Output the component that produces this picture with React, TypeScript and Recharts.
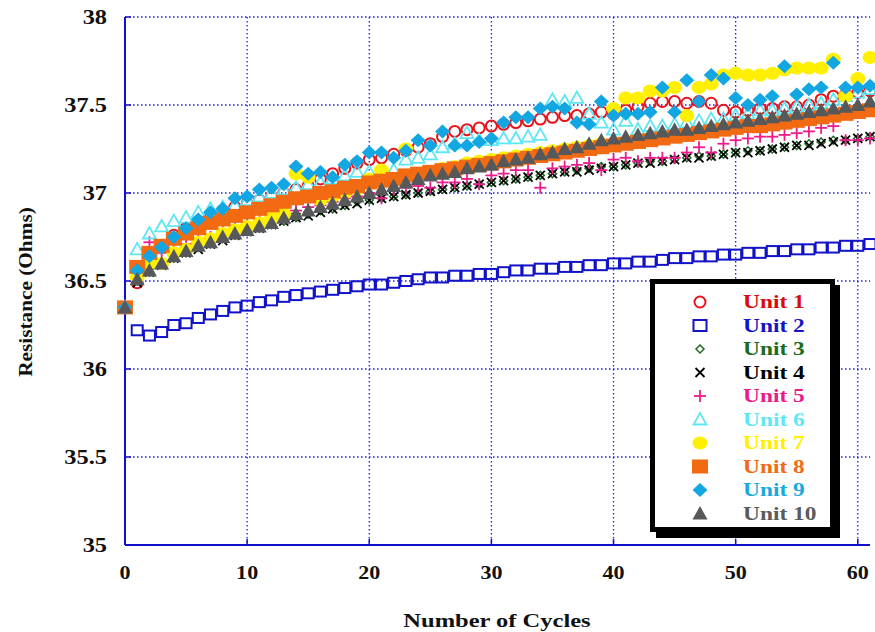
import React from 'react';
import { ScatterChart, Scatter, XAxis, YAxis, CartesianGrid, Legend, Label } from 'recharts';

const cycles = [0, 1, 2, 3, 4, 5, 6, 7, 8, 9, 10, 11, 12, 13, 14, 15, 16, 17, 18, 19, 20, 21, 22, 23, 24, 25, 26, 27, 28, 29, 30, 31, 32, 33, 34, 35, 36, 37, 38, 39, 40, 41, 42, 43, 44, 45, 46, 47, 48, 49, 50, 51, 52, 53, 54, 55, 56, 57, 58, 59, 60, 61];
const xTicks = [0, 10, 20, 30, 40, 50, 60];
const yTicks = [35, 35.5, 36, 36.5, 37, 37.5, 38];

const unit1 = [36.35, 36.49, 36.62, 36.7, 36.76, 36.8, 36.84, 36.87, 36.9, 36.92, 36.94, 36.96, 36.98, 37.0, 37.02, 37.04, 37.08, 37.11, 37.14, 37.17, 37.19, 37.2, 37.22, 37.24, 37.26, 37.28, 37.32, 37.35, 37.36, 37.37, 37.38, 37.39, 37.4, 37.41, 37.42, 37.43, 37.44, 37.44, 37.45, 37.46, 37.45, 37.47, 37.49, 37.51, 37.52, 37.52, 37.51, 37.52, 37.51, 37.47, 37.46, 37.47, 37.48, 37.48, 37.49, 37.49, 37.5, 37.53, 37.55, 37.56, 37.57, 37.58];
const unit2 = [36.35, 36.22, 36.19, 36.21, 36.25, 36.26, 36.29, 36.31, 36.33, 36.35, 36.36, 36.38, 36.39, 36.41, 36.42, 36.43, 36.44, 36.45, 36.46, 36.47, 36.48, 36.48, 36.49, 36.5, 36.51, 36.52, 36.52, 36.53, 36.53, 36.54, 36.54, 36.55, 36.56, 36.56, 36.57, 36.57, 36.58, 36.58, 36.59, 36.59, 36.6, 36.6, 36.61, 36.61, 36.62, 36.63, 36.63, 36.64, 36.64, 36.65, 36.65, 36.66, 36.66, 36.67, 36.67, 36.68, 36.68, 36.69, 36.69, 36.7, 36.7, 36.71];
const unit3 = [36.35, 36.5, 36.55, 36.6, 36.63, 36.66, 36.69, 36.71, 36.74, 36.76, 36.78, 36.8, 36.82, 36.84, 36.86, 36.88, 36.9, 36.91, 36.93, 36.95, 36.96, 36.97, 36.98, 36.99, 37.0, 37.01, 37.02, 37.03, 37.04, 37.05, 37.06, 37.07, 37.08, 37.09, 37.1, 37.11, 37.12, 37.13, 37.14, 37.15, 37.15, 37.16, 37.17, 37.18, 37.18, 37.19, 37.2, 37.21, 37.21, 37.22, 37.23, 37.24, 37.24, 37.25, 37.26, 37.27, 37.28, 37.29, 37.3, 37.3, 37.31, 37.32];
const unit4 = [36.35, 36.49, 36.55, 36.59, 36.63, 36.66, 36.68, 36.71, 36.73, 36.76, 36.78, 36.8, 36.82, 36.84, 36.86, 36.87, 36.89, 36.91, 36.93, 36.94, 36.96, 36.97, 36.98, 36.99, 37.0, 37.01, 37.02, 37.03, 37.04, 37.05, 37.06, 37.07, 37.08, 37.09, 37.1, 37.11, 37.12, 37.12, 37.13, 37.14, 37.15, 37.16, 37.17, 37.17, 37.18, 37.19, 37.2, 37.2, 37.21, 37.22, 37.23, 37.23, 37.24, 37.25, 37.26, 37.27, 37.27, 37.28, 37.29, 37.3, 37.31, 37.32];
const unit5 = [36.35, 36.52, 36.72, 36.66, 36.68, 36.71, 36.73, 36.75, 36.78, 36.8, 36.82, 36.84, 36.86, 36.88, 36.9, 36.92, 36.93, 36.95, 36.97, 36.98, 37.0, 36.97, 37.02, 37.03, 37.04, 37.03, 37.06, 37.06, 37.08, 37.05, 37.1, 37.11, 37.13, 37.13, 37.03, 37.14, 37.15, 37.16, 37.17, 37.13, 37.19, 37.2, 37.18, 37.2, 37.2, 37.2, 37.23, 37.26, 37.23, 37.28, 37.3, 37.31, 37.32, 37.32, 37.33, 37.34, 37.35, 37.37, 37.38, 37.3, 37.3, 37.31];
const unit6 = [36.35, 36.68, 36.77, 36.81, 36.84, 36.86, 36.89, 36.91, 36.92, 36.93, 36.96, 36.98, 37.0, 37.02, 37.03, 37.05, 37.06, 37.08, 37.1, 37.12, 37.12, 37.12, 37.13, 37.19, 37.2, 37.22, 37.26, 37.28, 37.34, 37.3, 37.3, 37.31, 37.31, 37.32, 37.33, 37.53, 37.52, 37.54, 37.45, 37.4, 37.36, 37.41, 37.36, 37.38, 37.38, 37.39, 37.4, 37.41, 37.42, 37.42, 37.44, 37.45, 37.47, 37.47, 37.48, 37.49, 37.5, 37.51, 37.53, 37.55, 37.57, 37.59];
const unit7 = [36.35, 36.52, 36.6, 36.6, 36.66, 36.68, 36.72, 36.74, 36.77, 36.79, 36.81, 36.83, 36.86, 36.88, 37.11, 37.09, 36.96, 36.98, 37.0, 37.02, 37.08, 37.13, 37.07, 37.25, 37.11, 37.12, 37.14, 37.15, 37.17, 37.18, 37.19, 37.2, 37.21, 37.22, 37.23, 37.24, 37.25, 37.26, 37.27, 37.28, 37.48, 37.54, 37.54, 37.58, 37.58, 37.6, 37.44, 37.6, 37.62, 37.67, 37.68, 37.67, 37.67, 37.68, 37.7, 37.71, 37.71, 37.71, 37.76, 37.55, 37.65, 37.77];
const unit8 = [36.35, 36.58, 36.66, 36.7, 36.74, 36.77, 36.8, 36.83, 36.85, 36.87, 36.89, 36.91, 36.93, 36.95, 36.97, 36.98, 37.0, 37.01, 37.03, 37.04, 37.06, 37.07, 37.08, 37.1, 37.11, 37.12, 37.13, 37.14, 37.15, 37.16, 37.17, 37.18, 37.19, 37.2, 37.21, 37.22, 37.23, 37.24, 37.25, 37.26, 37.27, 37.28, 37.29, 37.3, 37.31, 37.32, 37.33, 37.34, 37.35, 37.36, 37.37, 37.38, 37.38, 37.39, 37.4, 37.41, 37.42, 37.43, 37.44, 37.45, 37.46, 37.47];
const unit9 = [36.35, 36.56, 36.64, 36.69, 36.75, 36.8, 36.85, 36.89, 36.91, 36.97, 36.98, 37.02, 37.03, 37.05, 37.15, 37.11, 37.12, 37.09, 37.16, 37.18, 37.23, 37.23, 37.2, 37.24, 37.3, 37.27, 37.35, 37.27, 37.27, 37.29, 37.31, 37.4, 37.43, 37.43, 37.48, 37.49, 37.48, 37.4, 37.39, 37.52, 37.44, 37.45, 37.45, 37.46, 37.6, 37.46, 37.64, 37.52, 37.67, 37.65, 37.54, 37.5, 37.53, 37.55, 37.72, 37.56, 37.59, 37.6, 37.74, 37.6, 37.6, 37.61];
const unit10 = [36.35, 36.51, 36.56, 36.6, 36.64, 36.67, 36.7, 36.72, 36.75, 36.77, 36.79, 36.81, 36.83, 36.86, 36.88, 36.9, 36.92, 36.94, 36.96, 36.98, 37.0, 37.02, 37.04, 37.06, 37.08, 37.1, 37.11, 37.12, 37.14, 37.15, 37.16, 37.18, 37.19, 37.2, 37.22, 37.23, 37.25, 37.26, 37.28, 37.3, 37.31, 37.32, 37.33, 37.34, 37.35, 37.36, 37.36, 37.37, 37.38, 37.39, 37.4, 37.41, 37.42, 37.43, 37.44, 37.45, 37.46, 37.47, 37.48, 37.49, 37.5, 37.52];

const unitNames = ['Unit 1', 'Unit 2', 'Unit 3', 'Unit 4', 'Unit 5', 'Unit 6', 'Unit 7', 'Unit 8', 'Unit 9', 'Unit 10'];
const unitValues = [unit1, unit2, unit3, unit4, unit5, unit6, unit7, unit8, unit9, unit10];
const unitColors = ['#e8131b', '#1212c8', '#1d6b22', '#000000', '#ec1c8c', '#5fe6f3', '#fff000', '#f26a12', '#12a6e2', '#56585a'];
const legendTextColors = ['#d80c0c', '#1414c4', '#1d6b1d', '#000000', '#e81c8a', '#5ee8f4', '#fff000', '#f26a12', '#19a9e0', '#5b5b5b'];
const unitMarkers = ['ocircle', 'osquare', 'odiamond', 'x', 'plus', 'otriangle', 'fcircle', 'fsquare', 'fdiamond', 'ftriangle'];

const series = unitNames.map((name, i) => ({
  name,
  color: unitColors[i],
  marker: unitMarkers[i],
  data: cycles.map((c, j) => ({ x: c, y: unitValues[i][j] })),
}));

const FONT = '"Liberation Serif", "Times New Roman", serif';
const AXIS_BLUE = '#1010d0';

function Marker({ kind, cx, cy, color, legend }: { kind: string; cx: number; cy: number; color: string; legend?: boolean }) {
  if (cx == null || cy == null) return null;
  switch (kind) {
    case 'ocircle':
      return <circle cx={cx} cy={cy} r={5.5} fill="none" stroke={color} strokeWidth={2} />;
    case 'osquare':
      return legend
        ? <rect x={cx - 6.5} y={cy - 5.5} width={13} height={11} fill="none" stroke={color} strokeWidth={2} />
        : <rect x={cx - 5.5} y={cy - 5} width={11} height={10} fill="none" stroke={color} strokeWidth={2} />;
    case 'odiamond':
      return <polygon points={`${cx},${cy - 4} ${cx + 4},${cy} ${cx},${cy + 4} ${cx - 4},${cy}`} fill="none" stroke={color} strokeWidth={1.5} />;
    case 'x':
      return (
        <g stroke={color} strokeWidth={1.8}>
          <line x1={cx - 4.5} y1={cy - 4.5} x2={cx + 4.5} y2={cy + 4.5} />
          <line x1={cx - 4.5} y1={cy + 4.5} x2={cx + 4.5} y2={cy - 4.5} />
        </g>
      );
    case 'plus':
      return (
        <g stroke={color} strokeWidth={1.8}>
          <line x1={cx - 6} y1={cy} x2={cx + 6} y2={cy} />
          <line x1={cx} y1={cy - 6} x2={cx} y2={cy + 6} />
        </g>
      );
    case 'otriangle':
      return <polygon points={`${cx},${cy - 6.5} ${cx + 6.5},${cy + 5} ${cx - 6.5},${cy + 5}`} fill="none" stroke={color} strokeWidth={1.8} />;
    case 'fcircle':
      return <ellipse cx={cx} cy={cy} rx={7.5} ry={6.5} fill={color} />;
    case 'fsquare':
      return <rect x={cx - 8} y={cy - 7} width={16} height={14} fill={color} />;
    case 'fdiamond':
      return <polygon points={`${cx},${cy - 7} ${cx + 7.5},${cy} ${cx},${cy + 7} ${cx - 7.5},${cy}`} fill={color} />;
    case 'ftriangle':
      return <polygon points={`${cx},${cy - 7.5} ${cx + 7.5},${cy + 6} ${cx - 7.5},${cy + 6}`} fill={color} />;
    default:
      return null;
  }
}

const YTick = (props: any) => {
  const { y, payload } = props;
  return (
    <g transform={`translate(107, ${y}) scale(1.16, 1)`}>
      <text x={0} y={0} dy="0.35em" textAnchor="end" fontFamily={FONT} fontWeight="bold" fontSize={21} fill="#111">
        {payload.value}
      </text>
    </g>
  );
};

const XTick = (props: any) => {
  const { x, payload } = props;
  return (
    <g transform={`translate(${x}, 572) scale(1.16, 1)`}>
      <text x={0} y={0} dy="0.35em" textAnchor="middle" fontFamily={FONT} fontWeight="bold" fontSize={19} fill="#111">
        {payload.value}
      </text>
    </g>
  );
};

const EmptyTick = () => <g />;

const XTitle = () => (
  <g transform="translate(497, 620) scale(1.29, 1)">
    <text x={0} y={0} dy="0.35em" textAnchor="middle" fontFamily={FONT} fontWeight="bold" fontSize={19} fill="#111">
      Number of Cycles
    </text>
  </g>
);

const YTitle = () => (
  <g transform="translate(25, 292) rotate(-90) scale(1.12, 1)">
    <text x={0} y={0} dy="0.35em" textAnchor="middle" fontFamily={FONT} fontWeight="bold" fontSize={19} fill="#111">
      Resistance (Ohms)
    </text>
  </g>
);

const LegendBox = () => (
  <svg width={200} height={270} style={{ display: 'block' }}>
    <rect x={11} y={11} width={184} height={253} fill="#000" />
    <rect x={7.5} y={7.5} width={180} height={248} fill="#fff" stroke="#000" strokeWidth={5} />
    {series.map((s, i) => {
      const cy = 28 + i * 23.5;
      return (
        <g key={s.name}>
          <Marker kind={s.marker} cx={55} cy={cy} color={s.color} legend />
          <g transform={`translate(98, ${cy}) scale(1.3, 1)`}>
            <text x={0} y={0} dy="0.35em" fontFamily={FONT} fontWeight="bold" fontSize={18} fill={legendTextColors[i]}>
              {s.name}
            </text>
          </g>
        </g>
      );
    })}
  </svg>
);

export default function App() {
  return (
    <div style={{ position: 'absolute', left: 0, top: 0, background: '#fff' }}>
      <ScatterChart width={875} height={632} margin={{ top: 17, right: 5, left: 0, bottom: 0 }}>
        <CartesianGrid stroke="#1a1aff" strokeDasharray="1.5 2.5" strokeWidth={1.3} horizontalValues={yTicks} verticalValues={xTicks} />
        <XAxis
          xAxisId={0}
          dataKey="x"
          type="number"
          domain={[0, 61]}
          ticks={xTicks}
          height={87}
          axisLine={{ stroke: AXIS_BLUE, strokeWidth: 2 }}
          tickLine={{ stroke: AXIS_BLUE, strokeWidth: 1.5 }}
          tickSize={-6}
          tick={<XTick />}
          interval={0}
        >
          <Label content={<XTitle />} />
        </XAxis>
        <XAxis
          xAxisId="top"
          orientation="top"
          type="number"
          domain={[0, 61]}
          ticks={xTicks}
          height={0}
          axisLine={{ stroke: AXIS_BLUE, strokeWidth: 2 }}
          tickLine={{ stroke: AXIS_BLUE, strokeWidth: 1.5 }}
          tickSize={-6}
          tick={<EmptyTick />}
          interval={0}
        />
        <YAxis
          yAxisId={0}
          dataKey="y"
          type="number"
          domain={[35, 38]}
          ticks={yTicks}
          width={125}
          axisLine={{ stroke: AXIS_BLUE, strokeWidth: 2 }}
          tickLine={{ stroke: AXIS_BLUE, strokeWidth: 1.5 }}
          tickSize={-6}
          tick={<YTick />}
          interval={0}
        >
          <Label content={<YTitle />} />
        </YAxis>
        <YAxis
          yAxisId="right"
          orientation="right"
          type="number"
          domain={[35, 38]}
          ticks={yTicks}
          width={0}
          axisLine={{ stroke: AXIS_BLUE, strokeWidth: 2 }}
          tickLine={{ stroke: AXIS_BLUE, strokeWidth: 1.5 }}
          tickSize={-6}
          tick={<EmptyTick />}
          interval={0}
        />
        {series.map((s) => (
          <Scatter
            key={s.name}
            name={s.name}
            data={s.data}
            fill={s.color}
            isAnimationActive={false}
            shape={(p: any) => <Marker kind={s.marker} cx={p.cx} cy={p.cy} color={s.color} />}
          />
        ))}
        <Legend
          content={<LegendBox />}
          layout="vertical"
          align="center"
          verticalAlign="middle"
          wrapperStyle={{ left: 645, top: 274, width: 200, height: 270 }}
        />
      </ScatterChart>
    </div>
  );
}
